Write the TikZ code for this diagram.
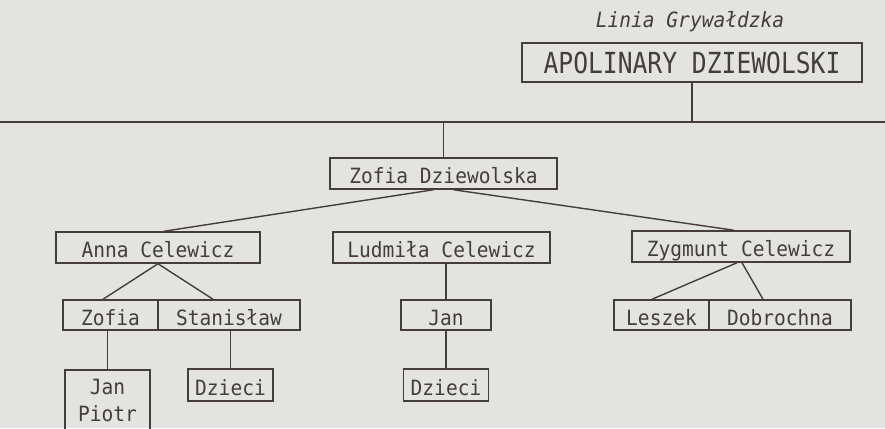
\documentclass[tikz,border=0pt]{standalone}
\usepackage{fontspec}
\newfontfamily\treefont[FakeStretch=0.93]{DejaVu Sans Mono}
\newfontfamily\headfont[FakeStretch=0.85]{DejaVu Sans Mono}
\definecolor{paper}{HTML}{E3E3E1}
\definecolor{ink}{HTML}{453D3D}
\begin{document}
\begin{tikzpicture}[x=1pt,y=-1pt,
  every node/.style={font=\treefont\fontsize{21}{27}\selectfont, text=ink},
  frame/.style={draw=ink, line width=1.5pt, rectangle, inner sep=0pt},
  box/.style={frame, minimum height=31pt, text height=20pt, text depth=0pt},
  rowbox/.style={box, minimum height=30pt},
  link/.style={draw=ink, line width=1.4pt}]
\fill[paper] (0,0) rectangle (885,428);
\useasboundingbox (0,0) rectangle (885,428);
\clip (0,0) rectangle (885,428);

\node[font=\treefont\itshape\fontsize{21}{27}\selectfont] (linia) at (690,22) {Linia Grywałdzka};
\node[frame, line width=2.5pt, minimum width=340pt, minimum height=39pt,
      text height=23pt, text depth=0pt,
      font=\headfont\fontsize{29}{32}\selectfont] (apol) at (692,62.5) {APOLINARY DZIEWOLSKI};

\coordinate (hl) at (0,122);
\coordinate (hr) at (885,122);
\draw[link] (hl) -- (hr);
\draw[link] (apol.south) -- (apol.south |- hl);

\node[box, minimum width=227pt] (zofia) at (443.5,173.5) {Zofia Dziewolska};
\draw[link] (zofia.north) -- (zofia.north |- hl);

\node[box, minimum width=204pt] (anna) at (158,247.5) {Anna Celewicz};
\node[box, minimum width=217pt] (ludmila) at (441.5,247.5) {Ludmiła Celewicz};
\node[box, minimum width=218pt] (zygmunt) at (741,246.5) {Zygmunt Celewicz};

\draw[link] ([xshift=-10pt]zofia.south) -- ([xshift=6pt]anna.north);
\draw[link] ([xshift=10pt]zofia.south) -- ([xshift=-7pt]zygmunt.north);

\node[rowbox, minimum width=95pt] (zofia2) at (110.5,315) {Zofia};
\node[rowbox, minimum width=142pt] (stan) at (229,315) {Stanisław};
\node[rowbox, minimum width=90pt] (jan) at (446,315) {Jan};
\node[rowbox, minimum width=95pt] (leszek) at (661.5,315) {Leszek};
\node[rowbox, minimum width=142pt] (dobro) at (780,315) {Dobrochna};

\draw[link] ([xshift=-7.5pt]zofia2.north) -- (anna.south) -- ([xshift=-16pt]stan.north);
\draw[link] (jan.north) -- (jan.north |- ludmila.south);
\draw[link] ([xshift=-9.5pt]leszek.north) -- ([xshift=-4pt]zygmunt.south);
\draw[link] ([xshift=1pt]zygmunt.south) -- ([xshift=-17pt]dobro.north);

\node[frame, minimum width=85pt, minimum height=60pt, align=center] (jp) at (107.5,400) {Jan\\Piotr};
\node[box, minimum width=85pt, minimum height=32pt] (dz1) at (230.5,385) {Dzieci};
\node[box, minimum width=85pt, minimum height=32pt] (dz2) at (446,385) {Dzieci};

\draw[link] (jp.north) -- (jp.north |- zofia2.south);
\draw[link] (dz1.north) -- (dz1.north |- stan.south);
\draw[link] (dz2.north) -- (jan.south);
\end{tikzpicture}
\end{document}
